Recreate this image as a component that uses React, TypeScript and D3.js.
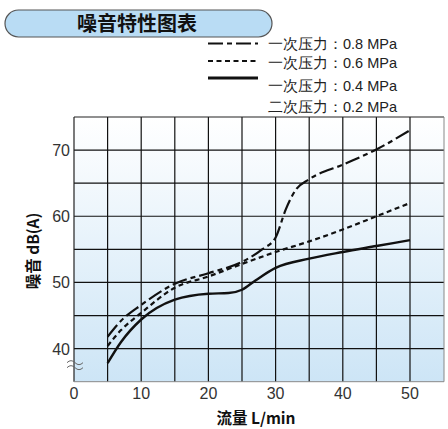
import React, { useEffect, useRef } from 'react';
import * as d3 from 'd3';

// flow (L/min) sampled along each curve
const flow08 = [5, 7, 10, 15, 20, 25, 28, 30, 31.5, 33, 35, 40, 45, 50];
const noise08 = [41.8, 44.2, 46.6, 49.8, 51.4, 53.1, 55.0, 56.8, 61.0, 64.0, 65.6, 67.8, 70.1, 73.0];

const flow06 = [5, 7, 10, 15, 20, 25, 30, 35, 40, 45, 50];
const noise06 = [40.4, 42.8, 45.4, 49.2, 50.9, 52.8, 54.6, 56.2, 58.0, 60.0, 62.0];

const flow04 = [5, 7, 10, 15, 20, 23, 25, 27, 30, 35, 40, 45, 50];
const noise04 = [37.8, 41.0, 44.4, 47.4, 48.3, 48.4, 48.9, 50.3, 52.2, 53.6, 54.6, 55.5, 56.4];

const xTicks = [0, 10, 20, 30, 40, 50];
const yTicks = [40, 50, 60, 70];
const legendLabels = ['一次压力：0.8 MPa', '一次压力：0.6 MPa', '一次压力：0.4 MPa', '二次压力：0.2 MPa'];

const App: React.FC = () => {
    const svgRef = useRef<SVGSVGElement>(null);

    useEffect(() => {
        if (!svgRef.current) return;
        const svg = d3.select(svgRef.current);
        svg.selectAll("*").remove();

        const font = "'Liberation Sans', Arial, sans-serif";
        const cjk = "'Noto Sans CJK SC', sans-serif";

        const left = 74, right = 444, top = 117, bottom = 381.7;

        const x = d3.scaleLinear().domain([0, 55]).range([left, left + 55 * 6.72]);
        const y = d3.scaleLinear().domain([35, 75]).range([bottom, top]);

        // background gradient
        const defs = svg.append("defs");
        const grad = defs.append("linearGradient")
            .attr("id", "bg").attr("x1", 0).attr("y1", 0).attr("x2", 0).attr("y2", 1);
        grad.append("stop").attr("offset", "0%").attr("stop-color", "#ffffff");
        grad.append("stop").attr("offset", "100%").attr("stop-color", "#cde5f6");

        // title pill
        svg.append("rect")
            .attr("x", 5).attr("y", 10).attr("width", 267).attr("height", 27)
            .attr("rx", 13.5)
            .attr("fill", "#b9dcf4").attr("stroke", "#555").attr("stroke-width", 1.2);
        svg.append("text")
            .attr("x", 137).attr("y", 30.5)
            .attr("text-anchor", "middle")
            .attr("font-family", cjk).attr("font-weight", "bold").attr("font-size", 20)
            .attr("fill", "#111")
            .text("噪音特性图表");

        // legend
        const legendLines = [
            { y: 43.5, dash: "15,4,5,4", w: 2.2 },
            { y: 61, dash: "5,3.5", w: 2.2 },
            { y: 78, dash: null, w: 2.8 }
        ];
        legendLines.forEach(l => {
            const ln = svg.append("line")
                .attr("x1", 208).attr("x2", 258).attr("y1", l.y).attr("y2", l.y)
                .attr("stroke", "#111").attr("stroke-width", l.w);
            if (l.dash) ln.attr("stroke-dasharray", l.dash);
        });
        const legendY = [49, 68, 91, 112];
        legendLabels.forEach((t, i) => {
            svg.append("text")
                .attr("x", 268).attr("y", legendY[i])
                .attr("font-family", font).attr("font-size", 14.5)
                .attr("fill", "#222")
                .text(t);
        });

        // plot background
        svg.append("rect")
            .attr("x", left).attr("y", top)
            .attr("width", right - left).attr("height", bottom - top)
            .attr("fill", "url(#bg)");

        // grid
        const g = svg.append("g");
        d3.range(5, 55, 5).forEach(v => {
            g.append("line")
                .attr("x1", x(v)).attr("x2", x(v)).attr("y1", top).attr("y2", bottom)
                .attr("stroke", "#111").attr("stroke-width", 1.2);
        });
        d3.range(40, 75, 5).forEach(v => {
            g.append("line")
                .attr("x1", left).attr("x2", right).attr("y1", y(v)).attr("y2", y(v))
                .attr("stroke", "#111").attr("stroke-width", 1.2);
        });
        // frame
        g.append("line").attr("x1", left).attr("x2", left).attr("y1", top).attr("y2", bottom)
            .attr("stroke", "#222").attr("stroke-width", 1.2);
        g.append("line").attr("x1", left).attr("x2", right).attr("y1", top).attr("y2", top)
            .attr("stroke", "#222").attr("stroke-width", 1.2);
        g.append("line").attr("x1", right).attr("x2", right).attr("y1", top).attr("y2", bottom)
            .attr("stroke", "#888").attr("stroke-width", 1);
        g.append("line").attr("x1", left).attr("x2", right).attr("y1", bottom).attr("y2", bottom)
            .attr("stroke", "#888").attr("stroke-width", 1);

        // axis break mark (two small waves)
        const waveY = [y(37.5) - 2.5, y(37.5) + 2.5];
        waveY.forEach(wy => {
            svg.append("path")
                .attr("d", `M67,${wy} q4,-4 8,0 t8,0`)
                .attr("fill", "none").attr("stroke", "#666").attr("stroke-width", 1);
        });

        // tick labels
        yTicks.forEach(v => {
            svg.append("text")
                .attr("x", 70).attr("y", y(v) + 6)
                .attr("text-anchor", "end")
                .attr("font-family", font).attr("font-size", 16).attr("fill", "#333")
                .text(v);
        });
        xTicks.forEach(v => {
            svg.append("text")
                .attr("x", x(v)).attr("y", 399)
                .attr("text-anchor", "middle")
                .attr("font-family", font).attr("font-size", 16).attr("fill", "#333")
                .text(v);
        });

        // axis titles
        svg.append("text")
            .attr("x", 256).attr("y", 424)
            .attr("text-anchor", "middle")
            .attr("font-family", cjk).attr("font-weight", "bold").attr("font-size", 15.5)
            .attr("fill", "#111")
            .text("流量 L/min");
        svg.append("text")
            .attr("transform", "translate(39,251) rotate(-90)")
            .attr("text-anchor", "middle")
            .attr("font-family", cjk).attr("font-weight", "bold").attr("font-size", 15.5)
            .attr("fill", "#111")
            .text("噪音 dB(A)");

        // curves
        const line = d3.line<[number, number]>()
            .x(d => x(d[0]))
            .y(d => y(d[1]))
            .curve(d3.curveMonotoneX);

        const series = [
            { xs: flow08, ys: noise08, dash: "15,4,5,4", w: 2.2 },
            { xs: flow06, ys: noise06, dash: "5,3.5", w: 2.2 },
            { xs: flow04, ys: noise04, dash: null, w: 2.4 }
        ];
        series.forEach(s => {
            const pts = s.xs.map((v, i) => [v, s.ys[i]] as [number, number]);
            const p = svg.append("path")
                .datum(pts)
                .attr("fill", "none")
                .attr("stroke", "#111")
                .attr("stroke-width", s.w)
                .attr("d", line);
            if (s.dash) p.attr("stroke-dasharray", s.dash);
        });
    }, []);

    return (
        <svg ref={svgRef} width={448} height={429}
            style={{ position: 'absolute', left: 0, top: 0, background: '#fff' }} />
    );
};

export default App;
